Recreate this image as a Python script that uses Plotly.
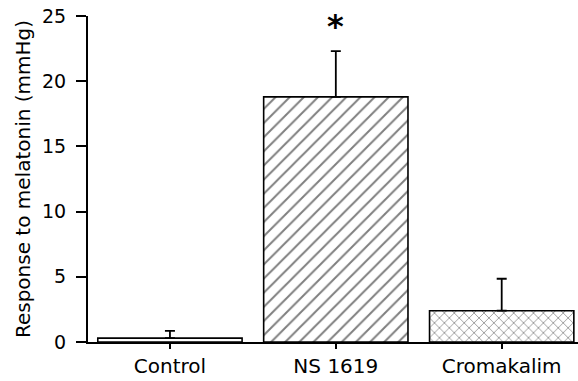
import plotly.graph_objects as go

categories = ["Control", "NS 1619", "Cromakalim"]
means = [0.3, 18.8, 2.4]
sem = [0.55, 3.5, 2.45]
y_ticks = [0, 5, 10, 15, 20, 25]
y_title = "Response to melatonin (mmHg)"
significance = ["", "*", ""]

FONT = "DejaVu Sans, Liberation Sans, Arial, sans-serif"

fig = go.Figure()
fig.add_trace(go.Bar(
    x=categories,
    y=means,
    width=0.87,
    marker=dict(
        color="white",
        line=dict(color="black", width=1.6),
        pattern=dict(
            shape=["", "/", "x"],
            fgcolor="black",
            bgcolor="white",
            size=[8, 10, 7],
            solidity=[0.1, 0.2, 0.2],
        ),
    ),
    error_y=dict(
        type="data",
        array=sem,
        arrayminus=[0, 0, 0],
        symmetric=False,
        color="black",
        thickness=1.8,
        width=5,
    ),
    showlegend=False,
))

for cat, m, s, mark in zip(categories, means, sem, significance):
    if mark:
        fig.add_annotation(
            x=cat, y=m + s, xref="x", yref="y",
            text="<b>" + mark + "</b>",
            showarrow=False,
            yanchor="bottom",
            yshift=4,
            font=dict(family=FONT, size=32, color="black"),
        )

fig.update_layout(
    width=578,
    height=381,
    margin=dict(l=88, r=0, t=16, b=39),
    paper_bgcolor="white",
    plot_bgcolor="white",
    font=dict(family=FONT, color="black", size=20),
    bargap=0.13,
)
fig.update_xaxes(
    range=[-0.494, 2.46],
    showline=True,
    linecolor="black",
    linewidth=2,
    ticks="outside",
    ticklen=5,
    tickwidth=1.5,
    tickcolor="black",
    showgrid=False,
    zeroline=False,
    tickfont=dict(size=20),
)
fig.update_yaxes(
    range=[0, 25],
    tickvals=y_ticks,
    showline=True,
    linecolor="black",
    linewidth=2,
    ticks="outside",
    ticklen=10,
    tickwidth=1.5,
    tickcolor="black",
    showgrid=False,
    zeroline=False,
    tickfont=dict(size=19),
    ticklabelstandoff=6,
    title=dict(text=y_title, font=dict(size=20), standoff=6),
)

fig.write_html("out.html")
